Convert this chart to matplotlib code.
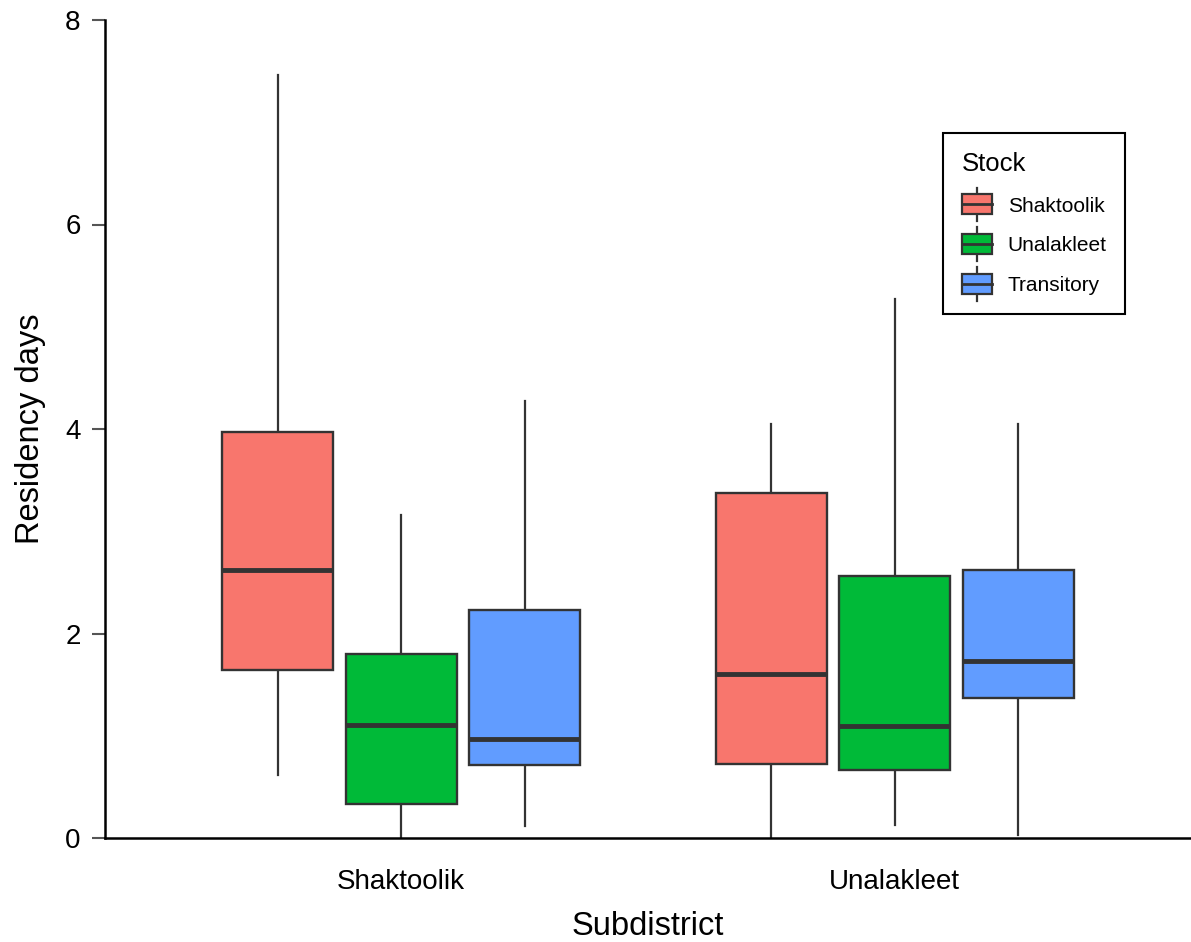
import matplotlib
matplotlib.use("Agg")
import matplotlib.pyplot as plt
from matplotlib.legend_handler import HandlerBase
from matplotlib.patches import Rectangle
from matplotlib.lines import Line2D

plt.rcParams["font.family"] = ["Liberation Sans", "DejaVu Sans"]

# Dane
subdistricts = ["Shaktoolik", "Unalakleet"]
stocks = ["Shaktoolik", "Unalakleet", "Transitory"]
colors = ["#F8766D", "#00BA38", "#619CFF"]

# [subdistrict][stock]
whislo = [[0.62, 0.0, 0.12], [0.0, 0.13, 0.03]]
q1 = [[1.64, 0.33, 0.71], [0.72, 0.665, 1.37]]
med = [[2.62, 1.105, 0.97], [1.60, 1.095, 1.727]]
q3 = [[3.97, 1.80, 2.23], [3.375, 2.56, 2.625]]
whishi = [[7.46, 3.16, 4.27], [4.05, 5.27, 4.05]]

edge = "#333333"


class BoxHandler(HandlerBase):
    def create_artists(self, legend, orig_handle, xdescent, ydescent,
                       width, height, fontsize, trans):
        cx = width / 2 - xdescent
        cy = height / 2 - ydescent
        bh = 0.95 * fontsize
        wl = 0.8 * fontsize
        w1 = Line2D([cx, cx], [cy - wl, cy + wl], color=edge, lw=1.6, transform=trans)
        box = Rectangle((cx - width / 2, cy - bh / 2), width, bh,
                        facecolor=orig_handle.get_facecolor(), edgecolor=edge,
                        lw=1.6, transform=trans)
        m = Line2D([cx - width / 2, cx + width / 2], [cy, cy], color=edge, lw=2.0,
                   transform=trans)
        return [w1, box, m]


fig = plt.figure(figsize=(11.91, 9.42), dpi=100)
ax = fig.add_axes([105 / 1191, 104 / 942, 1 - 105 / 1191, 818 / 942])

offsets = [-0.25, 0.0, 0.25]
handles = []
for j, st in enumerate(stocks):
    stats = []
    pos = []
    for i in range(len(subdistricts)):
        stats.append(dict(med=med[i][j], q1=q1[i][j], q3=q3[i][j],
                          whislo=whislo[i][j], whishi=whishi[i][j], fliers=[]))
        pos.append(i + 1 + offsets[j])
    bp = ax.bxp(stats, positions=pos, widths=0.225, patch_artist=True,
                showcaps=False, showfliers=False,
                boxprops=dict(facecolor=colors[j], edgecolor=edge, linewidth=1.7),
                medianprops=dict(color=edge, linewidth=3.5, solid_capstyle="butt"),
                whiskerprops=dict(color=edge, linewidth=1.6))
    for w in bp["whiskers"]:
        w.set_zorder(1)
    handles.append(Rectangle((0, 0), 1, 1, facecolor=colors[j], label=st))

ax.set_xlim(0.4, 2.6)
ax.set_ylim(0, 8)
ax.set_xticks([1, 2])
ax.set_xticklabels(subdistricts)
ax.set_yticks([0, 2, 4, 6, 8])
ax.tick_params(axis="y", labelsize=20, length=9.5, width=1.5, color="#555555", pad=8)
ax.tick_params(axis="x", labelsize=20, length=0, pad=22)
ax.spines["top"].set_visible(False)
ax.spines["right"].set_visible(False)
for s in ["left", "bottom"]:
    ax.spines[s].set_linewidth(1.8)
    ax.spines[s].set_color("black")

ax.set_xlabel("Subdistrict", fontsize=23.5, labelpad=12)
ax.set_ylabel("Residency days", fontsize=23.5, labelpad=14)

leg = fig.legend(handles=handles, labels=stocks, title="Stock",
                 handler_map={Rectangle: BoxHandler()},
                 loc="upper left", bbox_to_anchor=(943 / 1191, 1 - 133 / 942),
                 borderaxespad=0,
                 fontsize=15, title_fontsize=18.5, alignment="left",
                 fancybox=False, edgecolor="black", framealpha=1,
                 handlelength=1.45, labelspacing=1.0, borderpad=0.9,
                 handletextpad=0.75)
leg.get_frame().set_linewidth(1.5)

fig.savefig("out.png", dpi=100)
